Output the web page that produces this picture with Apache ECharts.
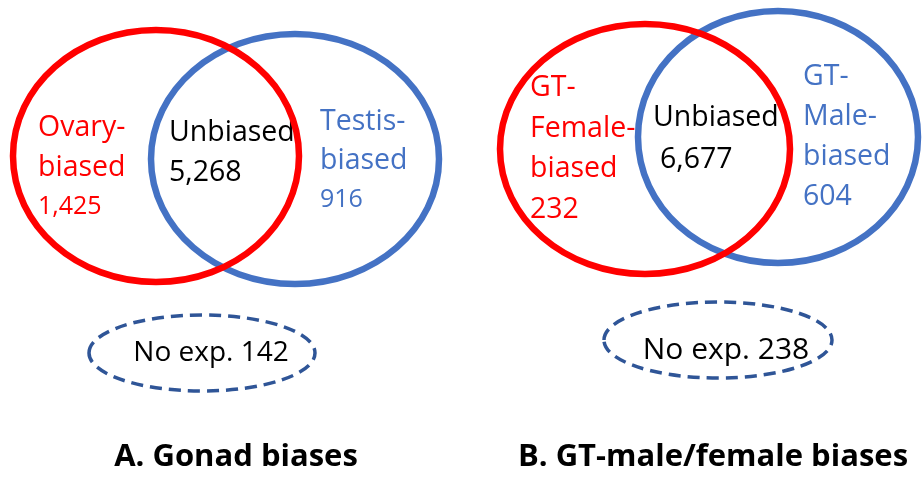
<!DOCTYPE html>
<html><head><meta charset="utf-8">
<script src="https://cdn.jsdelivr.net/npm/echarts@6/dist/echarts.min.js"></script>
<style>html,body{margin:0;padding:0;background:#fff}#c{width:922px;height:481px}</style>
</head><body><div id="c"></div>
<script>
// ---- data ----
const regionNamesA = ['Ovary-\nbiased', 'Unbiased', 'Testis-\nbiased'];
const regionCountsA = [1425, 5268, 916];
const noExpA = 142;
const regionNamesB = ['GT-\nFemale-\nbiased', 'Unbiased', 'GT-\nMale-\nbiased'];
const regionCountsB = [232, 6677, 604];
const noExpB = 238;
const titles = ['A. Gonad biases', 'B. GT-male/female biases'];

// ---- layout (page coordinates on hidden axes) ----
const ellipseLayout = [
  // panel A
  {cx: 295, cy: 159, rx: 144, ry: 125, color: '#4472C4', w: 6.5, dash: null},
  {cx: 156, cy: 156, rx: 143, ry: 126, color: '#FF0000', w: 6.5, dash: null},
  {cx: 202, cy: 353, rx: 113, ry: 38, color: '#2F5597', w: 3.5, dash: [12, 7]},
  // panel B
  {cx: 778, cy: 137, rx: 140, ry: 126, color: '#4472C4', w: 6.5, dash: null},
  {cx: 645, cy: 149, rx: 145, ry: 125, color: '#FF0000', w: 6.5, dash: null},
  {cx: 718, cy: 340, rx: 114, ry: 38, color: '#2F5597', w: 3.5, dash: [12, 7]}
];
const textLayoutA = [
  {x: 38, y: 128, gap: 39.5, color: '#FF0000', nameSize: 28.5, countSize: 25, dx: 0},
  {x: 169, y: 133, gap: 40, color: '#000000', nameSize: 28.5, countSize: 28.5, dx: 0},
  {x: 320, y: 122, gap: 39, color: '#4472C4', nameSize: 28.5, countSize: 25, dx: 0}
];
const textLayoutB = [
  {x: 530, y: 88, gap: 40.5, color: '#FF0000', nameSize: 28.5, countSize: 28.5, dx: 0},
  {x: 653, y: 118, gap: 42, color: '#000000', nameSize: 28.5, countSize: 28.5, dx: 7},
  {x: 803, y: 77, gap: 40, color: '#4472C4', nameSize: 28.5, countSize: 28.5, dx: 0}
];
const FONT = '"Open Sans", "Noto Sans", sans-serif';

function fmt(n) { return n.toLocaleString('en-US'); }

// build text items
const textItems = [];
function addRegions(names, counts, layout) {
  names.forEach((nm, i) => {
    const L = layout[i];
    const lines = nm.split('\n');
    lines.forEach((ln, k) => textItems.push({x: L.x, y: L.y + k * L.gap, text: ln, size: L.nameSize, color: L.color, weight: 'normal', align: 'left'}));
    textItems.push({x: L.x + L.dx, y: L.y + lines.length * L.gap, text: fmt(counts[i]), size: L.countSize, color: L.color, weight: 'normal', align: 'left'});
  });
}
addRegions(regionNamesA, regionCountsA, textLayoutA);
addRegions(regionNamesB, regionCountsB, textLayoutB);
textItems.push({x: 211, y: 353, text: 'No exp. ' + noExpA, size: 28, color: '#000', weight: 'normal', align: 'center'});
textItems.push({x: 726, y: 350, text: 'No exp. ' + noExpB, size: 30, color: '#000', weight: 'normal', align: 'center'});
textItems.push({x: 236, y: 457, text: titles[0], size: 31, color: '#000', weight: 'bold', align: 'center'});
textItems.push({x: 713, y: 457, text: titles[1], size: 31, color: '#000', weight: 'bold', align: 'center'});

const chart = echarts.init(document.getElementById('c'), null, {renderer: 'canvas'});
chart.setOption({
  animation: false,
  backgroundColor: '#fff',
  grid: {left: 0, right: 0, top: 0, bottom: 0},
  xAxis: {type: 'value', min: 0, max: 922, show: false},
  yAxis: {type: 'value', min: 0, max: 481, inverse: true, show: false},
  series: [
    {
      type: 'custom', z: 1,
      data: textItems.map((t, i) => [t.x, t.y, i]),
      renderItem: function (params, api) {
        const t = textItems[api.value(2)];
        const p = api.coord([api.value(0), api.value(1)]);
        return {
          type: 'text',
          style: {
            x: p[0], y: p[1], text: t.text, fill: t.color,
            font: t.weight + ' ' + t.size + 'px ' + FONT,
            align: t.align, verticalAlign: 'middle'
          }
        };
      }
    },
    {
      type: 'custom', z: 2,
      data: ellipseLayout.map((e, i) => [e.cx, e.cy, i]),
      renderItem: function (params, api) {
        const e = ellipseLayout[api.value(2)];
        const c = api.coord([api.value(0), api.value(1)]);
        const s = api.size([e.rx, e.ry]);
        return {
          type: 'ellipse',
          shape: {cx: c[0], cy: c[1], rx: s[0], ry: s[1]},
          style: {fill: null, stroke: e.color, lineWidth: e.w, lineDash: e.dash}
        };
      }
    }
  ]
});
</script></body></html>
